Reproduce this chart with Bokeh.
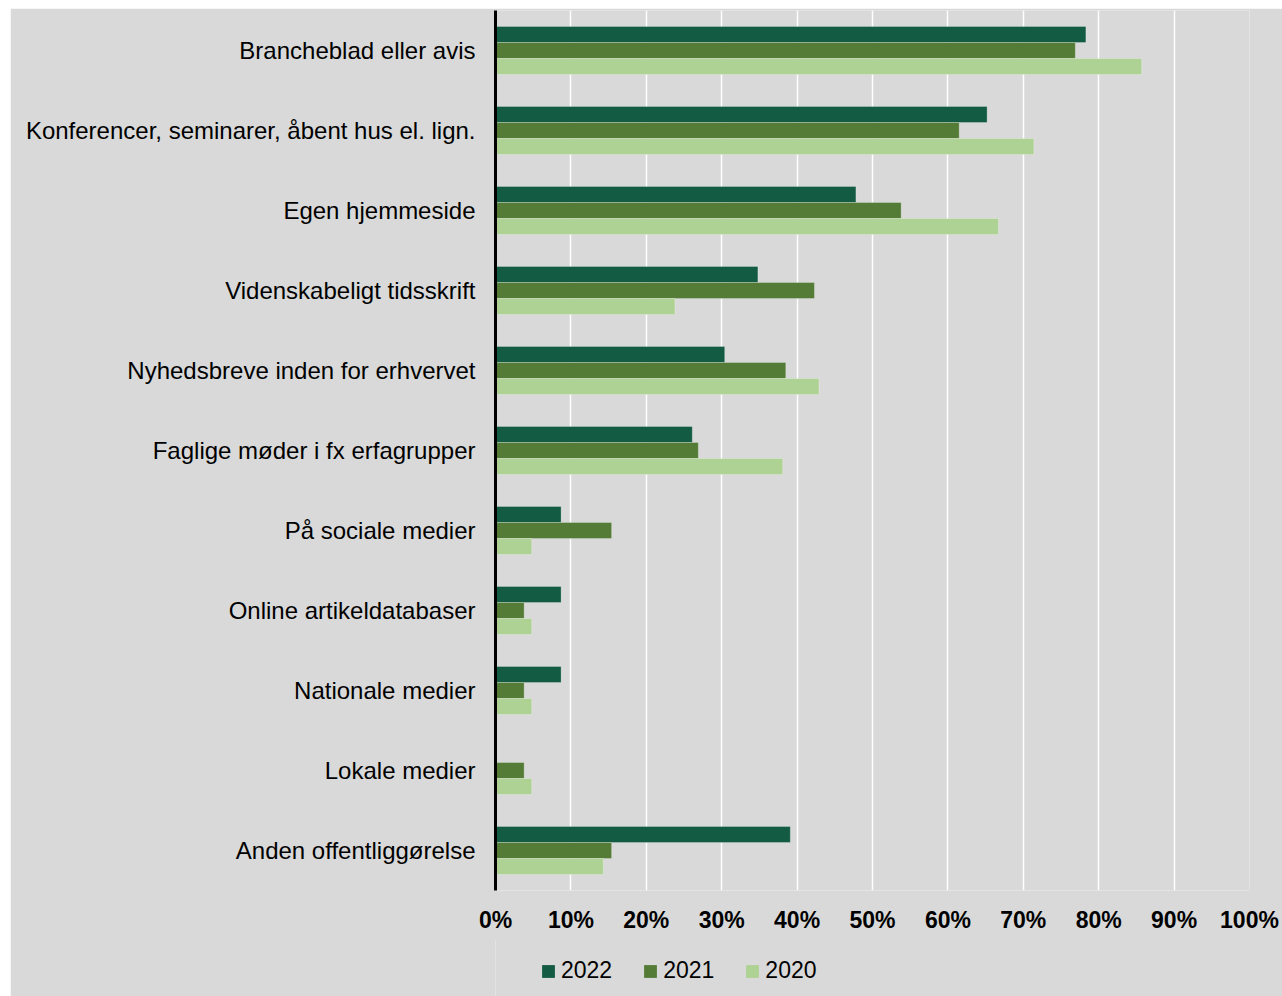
from bokeh.plotting import figure
from bokeh.layouts import column
from bokeh.models import (ColumnDataSource, FactorRange, FixedTicker, NumeralTickFormatter,
                          Legend, LegendItem)
from bokeh.transform import dodge
from bokeh.embed import file_html
from bokeh.resources import INLINE

categories = [
    "Brancheblad eller avis",
    "Konferencer, seminarer, åbent hus el. lign.",
    "Egen hjemmeside",
    "Videnskabeligt tidsskrift",
    "Nyhedsbreve inden for erhvervet",
    "Faglige møder i fx erfagrupper",
    "På sociale medier",
    "Online artikeldatabaser",
    "Nationale medier",
    "Lokale medier",
    "Anden offentliggørelse",
]
v2022 = [0.783, 0.652, 0.478, 0.348, 0.304, 0.261, 0.087, 0.087, 0.087, 0.0, 0.391]
v2021 = [0.769, 0.615, 0.538, 0.423, 0.385, 0.269, 0.154, 0.038, 0.038, 0.038, 0.154]
v2020 = [0.857, 0.714, 0.667, 0.238, 0.429, 0.381, 0.048, 0.048, 0.048, 0.048, 0.143]
series = ["2022", "2021", "2020"]
colors = ["#135b42", "#547c37", "#aed294"]
x_ticks = [0, 0.1, 0.2, 0.3, 0.4, 0.5, 0.6, 0.7, 0.8, 0.9, 1.0]

FONT = "Liberation Sans"
BG = "#d9d9d9"

source = ColumnDataSource(data=dict(cat=categories, s2022=v2022, s2021=v2021, s2020=v2020))

p = figure(
    frame_width=754, frame_height=880,
    y_range=FactorRange(*list(reversed(categories))),
    x_range=(0, 1),
    output_backend="svg", toolbar_location=None,
    background_fill_color=BG, border_fill_color=BG,
    min_border_left=485, min_border_right=33, min_border_top=2, min_border_bottom=50,
    margin=(8, 0, 0, 10),
)
p.outline_line_color = None

offsets = [0.2, 0.0, -0.2]
fields = ["s2022", "s2021", "s2020"]
for f, off, col in zip(fields, offsets, colors):
    p.hbar(y=dodge("cat", off, range=p.y_range), right=f, left=0, height=0.2,
           source=source, fill_color=col, line_color="#ffffff", line_alpha=0.25,
           line_width=1)

# grid
p.ygrid.grid_line_color = None
p.xgrid.grid_line_color = "#ffffff"
p.xgrid.grid_line_width = 1.5
p.xgrid.ticker = FixedTicker(ticks=x_ticks)

# x axis
p.xaxis.ticker = FixedTicker(ticks=x_ticks)
p.xaxis.formatter = NumeralTickFormatter(format="0%")
p.xaxis.axis_line_color = None
p.xaxis.major_tick_line_color = None
p.xaxis.minor_tick_line_color = None
p.xaxis.major_tick_out = 0
p.xaxis.major_label_standoff = 16
p.xaxis.major_label_text_font = FONT
p.xaxis.major_label_text_font_size = "23px"
p.xaxis.major_label_text_font_style = "bold"
p.xaxis.major_label_text_color = "#000000"

# y axis
p.yaxis.axis_line_color = "#000000"
p.yaxis.axis_line_width = 3
p.yaxis.major_tick_line_color = None
p.yaxis.minor_tick_line_color = None
p.yaxis.major_tick_out = 0
p.yaxis.major_label_standoff = 20
p.yaxis.major_label_text_font = FONT
p.yaxis.major_label_text_font_size = "24px"
p.yaxis.major_label_text_color = "#000000"

# legend strip below the chart (legend keys use proxy bars kept outside the visible range)
lg = figure(
    frame_width=1272, frame_height=57,
    x_range=(0, 1), y_range=(0, 1),
    output_backend="svg", toolbar_location=None,
    x_axis_location=None, y_axis_location=None,
    background_fill_color=BG, border_fill_color=BG,
    min_border=0,
    margin=(-1, 0, 0, 10),
)
lg.outline_line_color = None
lg.xgrid.grid_line_color = None
lg.ygrid.grid_line_color = None
proxy = ColumnDataSource(data=dict(y=[-5], right=[0.1]))
leg_renderers = [lg.hbar(y="y", right="right", left=0, height=0.1, source=proxy,
                         fill_color=col, line_color=None) for col in colors]

legend = Legend(
    items=[LegendItem(label=s, renderers=[r]) for s, r in zip(series, leg_renderers)],
    orientation="horizontal", location=(530, 12),
    background_fill_alpha=0, border_line_color=None,
    glyph_width=16, glyph_height=16, label_standoff=5, spacing=30,
    label_text_font=FONT, label_text_font_size="23px", label_text_color="#000000",
    margin=0, padding=4,
)
lg.add_layout(legend, "center")

layout = column(p, lg, spacing=0)
open("out.html", "w").write(file_html(layout, INLINE))
